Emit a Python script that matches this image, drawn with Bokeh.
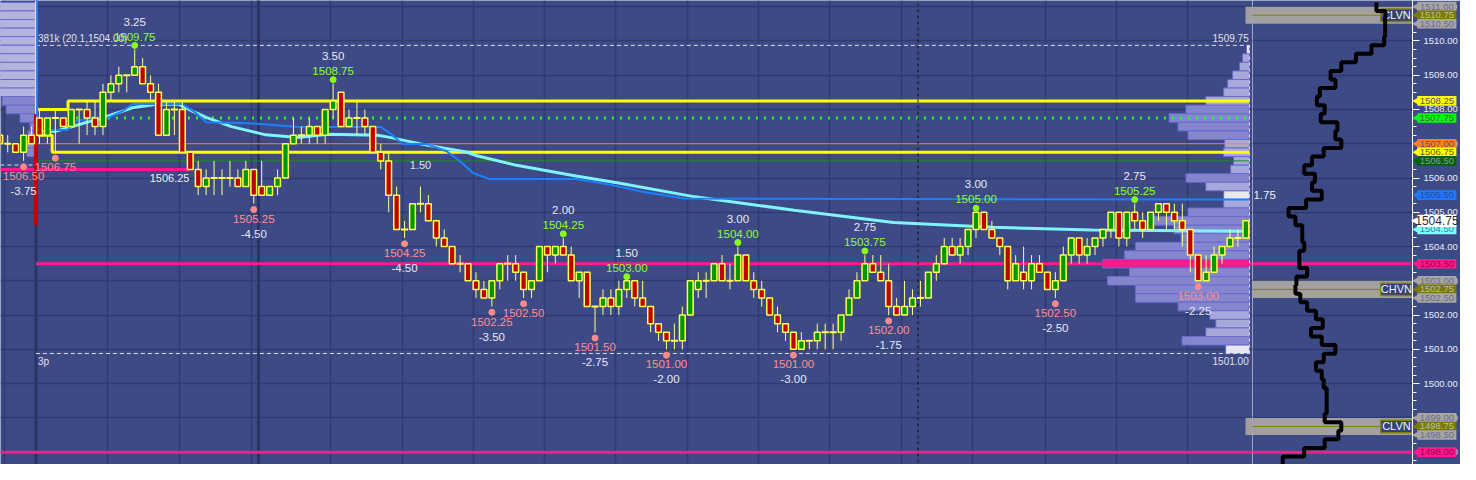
import numpy as np
from bokeh.plotting import figure
from bokeh.layouts import row
from bokeh.models import (Range1d, ColumnDataSource, SingleIntervalTicker, FixedTicker,
                          PrintfTickFormatter)
from bokeh.core.properties import value
from bokeh.embed import file_html
from bokeh.resources import INLINE

# ---------------- data ----------------
FIRST_BAR = -5
opens = [1507.25, 1507.0, 1507.0, 1506.75, 1507.25, 1507.75, 1507.25, 1507.75, 1507.75, 1507.5,
         1508.0, 1508.0, 1507.75, 1507.5, 1508.5, 1508.75, 1509.0, 1509.0, 1509.25, 1508.75,
         1508.5, 1507.25, 1508.0, 1508.0, 1506.75, 1506.25, 1505.75, 1506.0, 1506.0, 1506.0,
         1506.0, 1505.75, 1506.25, 1505.75, 1505.5, 1505.75, 1506.0, 1507.0, 1507.25, 1507.25,
         1507.5, 1507.25, 1508.0, 1508.5, 1507.5, 1507.75, 1507.75, 1507.5, 1506.75, 1506.5,
         1505.5, 1504.5, 1504.5, 1505.25, 1505.25, 1504.75, 1504.25, 1504.0, 1503.5, 1503.5,
         1503.0, 1502.75, 1502.5, 1503.0, 1503.5, 1503.5, 1503.25, 1502.75, 1503.0, 1504.0,
         1503.75, 1504.0, 1503.75, 1503.0, 1503.25, 1502.25, 1502.25, 1502.5, 1502.25, 1502.75,
         1503.0, 1502.5, 1502.25, 1501.75, 1501.5, 1501.25, 1501.25, 1502.0, 1502.75, 1503.0,
         1503.0, 1503.5, 1503.0, 1503.0, 1503.75, 1503.0, 1502.75, 1502.5, 1502.0, 1501.75,
         1501.5, 1501.0, 1501.25, 1501.25, 1501.5, 1501.5, 1501.5, 1502.0, 1502.5, 1503.0,
         1503.5, 1503.25, 1503.0, 1502.25, 1502.0, 1502.25, 1502.5, 1502.5, 1503.25, 1503.5,
         1504.0, 1503.75, 1504.0, 1504.5, 1505.0, 1504.5, 1504.25, 1504.0, 1503.0, 1503.25,
         1503.0, 1503.5, 1503.25, 1502.75, 1503.0, 1503.75, 1504.25, 1503.75, 1504.0, 1504.25,
         1504.5, 1505.0, 1504.25, 1505.0, 1504.75, 1504.5, 1505.0, 1505.25, 1505.0, 1504.75,
         1504.5, 1503.75, 1503.0, 1503.25, 1503.75, 1504.0, 1504.25, 1504.25]
highs = [1507.5, 1507.25, 1507.0, 1507.5, 1507.5, 1508.0, 1507.75, 1508.0, 1507.75, 1508.0,
         1508.0, 1508.25, 1508.25, 1508.75, 1509.0, 1509.25, 1509.0, 1509.75, 1509.5, 1509.0,
         1508.75, 1508.25, 1508.25, 1508.25, 1506.75, 1506.5, 1506.25, 1506.5, 1506.25, 1506.5,
         1506.25, 1506.5, 1506.25, 1506.5, 1505.75, 1506.25, 1507.0, 1507.75, 1507.5, 1507.75,
         1507.5, 1508.0, 1508.75, 1508.5, 1508.0, 1508.25, 1508.0, 1507.5, 1507.0, 1506.75,
         1505.75, 1504.75, 1505.25, 1505.75, 1505.5, 1504.75, 1504.5, 1504.0, 1503.75, 1503.5,
         1503.25, 1503.0, 1503.0, 1503.5, 1503.75, 1503.75, 1503.25, 1503.0, 1504.0, 1504.0,
         1504.0, 1504.25, 1504.0, 1503.25, 1503.25, 1502.25, 1502.75, 1502.75, 1503.0, 1503.0,
         1503.0, 1503.0, 1502.25, 1501.75, 1501.5, 1501.75, 1502.25, 1503.0, 1503.25, 1503.25,
         1503.5, 1503.75, 1503.5, 1504.0, 1503.75, 1503.25, 1503.0, 1502.5, 1502.25, 1501.75,
         1501.5, 1501.5, 1501.25, 1501.75, 1501.75, 1501.75, 1502.0, 1502.75, 1503.25, 1503.75,
         1503.75, 1503.75, 1503.5, 1502.5, 1503.0, 1502.75, 1503.0, 1503.25, 1503.75, 1504.25,
         1504.25, 1504.25, 1504.5, 1505.0, 1505.0, 1504.75, 1504.25, 1504.0, 1503.75, 1504.0,
         1503.75, 1503.75, 1503.25, 1503.25, 1504.0, 1504.25, 1504.25, 1504.25, 1504.25, 1504.5,
         1505.0, 1505.0, 1505.0, 1505.25, 1505.0, 1505.0, 1505.25, 1505.25, 1505.25, 1505.25,
         1504.5, 1503.75, 1503.75, 1504.0, 1504.0, 1504.5, 1504.5, 1504.75]
lows = [1506.75, 1506.75, 1506.75, 1506.5, 1507.0, 1507.0, 1507.0, 1506.75, 1507.5, 1507.5,
        1507.0, 1507.25, 1507.25, 1507.25, 1508.25, 1508.5, 1508.5, 1509.0, 1508.75, 1508.25,
        1507.25, 1507.25, 1507.25, 1506.75, 1506.25, 1505.5, 1505.5, 1505.5, 1505.5, 1505.75,
        1505.75, 1505.75, 1505.25, 1505.5, 1505.5, 1505.5, 1506.0, 1507.0, 1507.0, 1507.0,
        1507.0, 1507.0, 1507.75, 1507.5, 1507.5, 1507.25, 1507.25, 1506.75, 1506.25, 1505.0,
        1504.5, 1504.25, 1504.5, 1505.0, 1504.75, 1504.0, 1504.0, 1503.5, 1503.25, 1503.0,
        1502.5, 1502.5, 1502.25, 1502.75, 1503.0, 1503.0, 1502.5, 1502.5, 1503.0, 1503.25,
        1503.5, 1503.75, 1503.0, 1502.5, 1502.25, 1501.5, 1502.0, 1502.0, 1502.0, 1502.5,
        1502.25, 1502.25, 1501.5, 1501.25, 1501.0, 1501.0, 1501.0, 1502.0, 1502.5, 1502.5,
        1503.0, 1503.0, 1502.75, 1503.0, 1503.0, 1502.5, 1502.25, 1502.0, 1501.5, 1501.25,
        1501.0, 1501.0, 1501.0, 1501.0, 1501.0, 1501.0, 1501.25, 1502.0, 1502.5, 1503.0,
        1503.25, 1503.0, 1502.0, 1502.0, 1502.0, 1502.0, 1502.25, 1502.5, 1503.0, 1503.5,
        1503.75, 1503.5, 1503.75, 1504.25, 1504.5, 1504.25, 1503.75, 1502.75, 1503.0, 1502.75,
        1502.75, 1503.25, 1502.75, 1502.5, 1503.0, 1503.5, 1503.5, 1503.5, 1503.75, 1504.0,
        1504.25, 1504.0, 1504.0, 1504.5, 1504.25, 1504.5, 1504.75, 1504.5, 1504.5, 1504.0,
        1503.25, 1503.0, 1503.0, 1503.25, 1503.5, 1504.0, 1504.0, 1504.25]
closes = [1507.0, 1507.0, 1506.75, 1507.25, 1507.0, 1507.25, 1507.75, 1507.75, 1507.5, 1508.0,
          1508.0, 1507.75, 1507.5, 1508.5, 1508.75, 1509.0, 1509.0, 1509.25, 1508.75, 1508.5,
          1507.25, 1508.0, 1508.0, 1506.75, 1506.25, 1505.75, 1506.0, 1506.0, 1506.0, 1506.0,
          1505.75, 1506.25, 1505.5, 1505.5, 1505.75, 1506.0, 1507.0, 1507.25, 1507.25, 1507.5,
          1507.25, 1508.0, 1508.25, 1507.5, 1507.75, 1507.75, 1507.5, 1506.75, 1506.5, 1505.5,
          1504.5, 1504.5, 1505.25, 1505.25, 1504.75, 1504.25, 1504.0, 1503.5, 1503.5, 1503.0,
          1502.75, 1502.5, 1503.0, 1503.5, 1503.5, 1503.25, 1502.75, 1503.0, 1504.0, 1503.75,
          1504.0, 1503.75, 1503.0, 1503.25, 1502.25, 1502.25, 1502.5, 1502.25, 1502.75, 1503.0,
          1502.5, 1502.25, 1501.75, 1501.5, 1501.25, 1501.25, 1502.0, 1503.0, 1503.0, 1503.0,
          1503.5, 1503.0, 1503.0, 1503.75, 1503.0, 1502.75, 1502.5, 1502.0, 1501.75, 1501.5,
          1501.0, 1501.25, 1501.25, 1501.5, 1501.5, 1501.5, 1502.0, 1502.5, 1503.0, 1503.5,
          1503.25, 1503.0, 1502.25, 1502.0, 1502.25, 1502.5, 1502.5, 1503.25, 1503.5, 1504.0,
          1503.75, 1504.0, 1504.5, 1505.0, 1504.5, 1504.25, 1504.0, 1503.0, 1503.5, 1503.0,
          1503.5, 1503.25, 1502.75, 1503.0, 1503.75, 1504.25, 1503.75, 1504.0, 1504.25, 1504.5,
          1505.0, 1504.25, 1505.0, 1504.75, 1504.5, 1505.0, 1505.25, 1505.0, 1504.75, 1504.5,
          1503.75, 1503.0, 1503.25, 1503.75, 1504.0, 1504.25, 1504.25, 1504.75]

swing_high_bar = [12, 37, 66, 74, 88, 104, 118, 138]
swing_high_price = [1509.75, 1508.75, 1504.25, 1503.0, 1504.0, 1503.75, 1505.0, 1505.25]
swing_high_change = ["3.25", "3.50", "2.00", "1.50", "3.00", "2.75", "3.00", "2.75"]
swing_low_bar = [-2, 2, 27, 46, 57, 61, 70, 79, 95, 107, 128, 146]
swing_low_price = [1506.5, 1506.75, 1505.25, 1504.25, 1502.25, 1502.5, 1501.5, 1501.0,
                   1501.0, 1502.0, 1502.5, 1503.0]
swing_low_change = ["-3.75", "", "-4.50", "-4.50", "-3.50", "", "-2.75", "-2.00",
                    "-3.00", "-1.75", "-2.50", "-2.25"]

vp_price = [1509.75, 1509.5, 1509.25, 1509.0, 1508.75, 1508.5, 1508.25, 1508.0, 1507.75,
            1507.5, 1507.25, 1507.0, 1506.75, 1506.5, 1506.25, 1506.0, 1505.75, 1505.5,
            1505.25, 1505.0, 1504.75, 1504.5, 1504.25, 1504.0, 1503.75, 1503.5, 1503.25,
            1503.0, 1502.75, 1502.5, 1502.25, 1502.0, 1501.75, 1501.5, 1501.25, 1501.0]
vp_volume = [3, 7, 10, 17, 22, 26, 44, 64, 81, 72, 62, 25, 26, 16, 19, 64, 44, 26, 26, 62,
             97, 76, 69, 115, 126, 148, 121, 143, 115, 115, 72, 40, 34, 44, 68, 24]
pp_price = [1511.0, 1510.75, 1510.5, 1510.25, 1510.0, 1509.75, 1509.5, 1509.25, 1509.0,
            1508.75, 1508.5, 1508.25, 1508.0, 1507.75, 1507.5, 1507.25, 1507.0, 1506.75]
pp_volume = [40, 40, 40, 40, 40, 40, 40, 40, 40, 40, 38, 34, 30, 16, 6, 8, 10, 9]
cp_price = [1511.0, 1510.75, 1510.5, 1510.25, 1510.0, 1509.75, 1509.5, 1509.25, 1509.0,
            1508.75, 1508.5, 1508.25, 1508.0, 1507.75, 1507.5, 1507.25, 1507.0, 1506.75,
            1506.5, 1506.25, 1506.0, 1505.75, 1505.5, 1505.25, 1505.0, 1504.75, 1504.5,
            1504.25, 1504.0, 1503.75, 1503.5, 1503.25, 1503.0, 1502.75, 1502.5, 1502.25,
            1502.0, 1501.75, 1501.5, 1501.25, 1501.0, 1500.75, 1500.5, 1500.25, 1500.0,
            1499.75, 1499.5, 1499.25, 1499.0, 1498.75, 1498.5, 1498.25, 1498.0, 1497.75]
cp_volume = [127, 136, 136, 136, 135, 122, 106, 91, 80, 85, 69, 66, 74, 70, 87, 85, 91, 73,
             61, 53, 64, 61, 71, 55, 37, 44, 51, 51, 53, 48, 48, 56, 45, 44, 49, 56, 65, 72,
             60, 71, 85, 73, 65, 71, 73, 76, 76, 76, 74, 91, 88, 74, 53, 31]

cyan_bar = [-0.4, 2.0, 4.7, 8.8, 11.7, 14.7, 17.6, 19.2, 21, 24.2, 28.5, 32.6, 36.3, 42.6,
            43.8, 48.8, 53.8, 55.1, 60.1, 67.6, 72.6, 82.6, 95.1, 107.6, 120.1, 132.6, 152.46]
cyan_val = [1507.4, 1507.36, 1507.54, 1507.82, 1508.05, 1508.15, 1508.15, 1507.96, 1507.77,
            1507.5, 1507.26, 1507.18, 1507.28, 1507.25, 1507.2, 1506.96, 1506.76, 1506.65,
            1506.37, 1506.06, 1505.87, 1505.45, 1505.06, 1504.7, 1504.56, 1504.48, 1504.45]
blue_bar = [-0.3, -0.3, 1.7, 3.5, 4.7, 8.8, 10.5, 11.7, 18, 19.7, 21, 26.3, 32.6, 43, 44.5,
            45.7, 48.8, 51.3, 52.6, 54.7, 56.7, 67.6, 72, 76, 81.3, 152.46]
blue_val = [1511.3, 1507.4, 1507.4, 1507.4, 1507.68, 1507.77, 1507.96, 1508.16, 1508.16,
            1507.9, 1507.63, 1507.6, 1507.49, 1507.49, 1507.25, 1506.99, 1506.99, 1506.78,
            1506.56, 1506.14, 1505.97, 1505.97, 1505.8, 1505.6, 1505.4, 1505.37]

session_start = -0.45
profile_base = 152.46
session_high, session_low = 1509.75, 1501.0
ib_high_early, ib_high = 1508.0, 1508.25
ib_low_early, ib_low = 1507.25, 1506.75
green_level, orange_level, dkgreen_level = 1507.75, 1507.0, 1506.5
prior_magenta = 1506.25
magenta_levels = [1503.5, 1498.0]
node_names = ["CLVN", "CHVN", "CLVN"]
node_center = [1510.75, 1502.75, 1498.75]
tag_price = [1511.0, 1510.75, 1510.5, 1508.25, 1507.75, 1507.0, 1506.75, 1506.5, 1505.5,
             1504.5, 1504.75, 1503.5, 1503.0, 1502.75, 1502.5, 1499.0, 1498.75, 1498.5, 1498.0]
tag_kind = ["grey", "olive", "grey", "yellow", "green", "orange", "yellow", "dkgreen", "blue",
            "cyan", "white", "magenta", "grey", "olive", "grey", "grey", "olive", "grey", "magenta"]
grid_bars = [-4.4, 8.6, 17.6, 26.7, 36.7, 45.7, 54.7, 63.6, 72.6, 81.6, 90.6, 99.6, 108.6,
             117.6, 126.7, 135.7, 144.7]

# ---------------- styling ----------------
BG = "#3d4a86"
GRID = "#303b72"
FONT = "Liberation Sans"
H, W_MAIN, W_RIGHT = 464, 1252, 208
y_rng = Range1d(1497.64, 1511.18)


def txt(fig, xs, ys, texts, color, size="11px", align="center", yoff=0, level="glyph"):
    src = ColumnDataSource(dict(x=list(xs), y=list(ys), t=list(texts)))
    fig.text("x", "y", text="t", source=src, y_offset=yoff, text_align=align,
             text_baseline="middle", text_font=value(FONT), text_font_size=size,
             text_color=color, level=level)


p = figure(width=W_MAIN, height=H, x_range=Range1d(-4.91, 152.84), y_range=y_rng,
           output_backend="svg", toolbar_location=None, min_border=0)
p.xaxis.visible = False
p.yaxis.visible = False
p.background_fill_color = BG
p.border_fill_color = BG
p.outline_line_color = None
p.ygrid.ticker = SingleIntervalTicker(interval=1)
p.xgrid.ticker = FixedTicker(ticks=grid_bars)
for g in (p.xgrid, p.ygrid):
    g.grid_line_color = GRID
    g.grid_line_width = 1.5

p.segment(x0=[session_start, 27.6], y0=[1497.0] * 2, x1=[session_start, 27.6], y1=[1512.0] * 2,
          line_color="#2a3466", line_width=3)

# profiles
vp_price_a = np.array(vp_price)
vp_vol_a = np.array(vp_volume, dtype=float)
vp_colors = []
for pr, v in zip(vp_price, vp_volume):
    if pr in (session_high, session_low, 1505.5):
        vp_colors.append("#ffffff")
    elif v == max(vp_volume):
        vp_colors.append("#ff1a8c")
    elif v >= 55:
        vp_colors.append("#8e8ed8")
    else:
        vp_colors.append("#b6b6e6")
p.quad(bottom=vp_price_a - 0.125, top=vp_price_a + 0.125, left=profile_base - vp_vol_a / 8.0,
       right=np.full(len(vp_price), profile_base), fill_color=vp_colors, fill_alpha=0.88,
       line_color="#6a6ad0", line_width=1)
pp_colors = ["#c4c4ea" if v >= 38 else "#8f8fd8" for v in pp_volume]
pp_price_a = np.array(pp_price)
p.quad(bottom=pp_price_a - 0.125, top=pp_price_a + 0.125,
       left=session_start - np.array(pp_volume, dtype=float) / 8.0,
       right=np.full(len(pp_price), session_start), fill_color=pp_colors, fill_alpha=0.88,
       line_color="#6a6ad0", line_width=1)

p.quad(left=[151.96, 151.96], right=[153.5, 153.5],
       bottom=[node_center[0] - 0.25, node_center[2] - 0.25],
       top=[node_center[0] + 0.25, node_center[2] + 0.25],
       fill_color="#aaa7a4", fill_alpha=0.92, line_color=None)

# horizontal levels
p.line([-4.91, 18.9], [prior_magenta] * 2, line_color="#ff1a8c", line_width=3)
txt(p, [18.9], [prior_magenta], ["1506.25"], "#f0f0f8", align="right", yoff=9)
p.line([session_start, 152.84], [magenta_levels[0]] * 2, line_color="#ff1a8c", line_width=3)
p.line([-4.91, 152.84], [magenta_levels[1]] * 2, line_color="#ff1a8c", line_width=3)
p.line([session_start, profile_base], [orange_level] * 2, line_color="#ff8c1a", line_width=1)
p.line([session_start, profile_base], [dkgreen_level] * 2, line_color="#1c8a1c", line_width=1)
p.line([4.6, profile_base], [green_level] * 2, line_color="#1aff1a", line_width=3,
       line_dash="2 6")
p.line([session_start, 3.6, 3.6, profile_base], [ib_high_early, ib_high_early, ib_high, ib_high],
       line_color="#ffff00", line_width=3)
p.line([session_start, 1.6, 1.6, profile_base], [ib_low_early, ib_low_early, ib_low, ib_low],
       line_color="#ffff00", line_width=3)
p.line([session_start, session_start], [1511.3, ib_low_early], line_color="#ffff00", line_width=2)
p.segment(x0=[session_start], y0=[1507.87], x1=[session_start], y1=[1504.62],
          line_color="#c80000", line_width=4)
p.line([session_start, profile_base], [session_high + 0.12] * 2, line_color="#dcdce8",
       line_width=1, line_dash="4 3")
p.line([session_start, profile_base], [session_low - 0.12] * 2, line_color="#dcdce8",
       line_width=1, line_dash="4 3")
p.line([-4.91, session_start], [1506.38] * 2, line_color="#dcdce8", line_width=1, line_dash="4 3")
p.line([profile_base, profile_base], [session_low - 0.12, session_high + 0.12],
       line_color="#dcdce8", line_width=1, line_dash="3 3")
txt(p, [-0.2], [session_high + 0.12], ["381k (20.1,1504.00)"], "#e0e0ec", "10px", "left", -7)
txt(p, [-0.2], [session_low - 0.12], ["3p"], "#e0e0ec", "10px", "left", 8)
txt(p, [profile_base - 0.1], [session_high + 0.12], ["1509.75"], "#e0e0ec", "10px", "right", -7)
txt(p, [profile_base - 0.1], [session_low - 0.12], ["1501.00"], "#e0e0ec", "10px", "right", 8)
txt(p, [48.0], [1506.5], ["1.50"], "#e0e0ec", "11px", "center", 4)

p.line([110.7, 110.7], [1497.0, 1512.0], line_color="#101010", line_width=1, line_dash="3 3")

p.line(cyan_bar, cyan_val, line_color="#7ff4ff", line_width=3)
p.line(blue_bar, blue_val, line_color="#1a82ff", line_width=2)

# candles
x = np.arange(FIRST_BAR, FIRST_BAR + len(opens))
o, h, l, c = (np.array(a, dtype=float) for a in (opens, highs, lows, closes))
p.segment(x0=x, y0=h, x1=x, y1=l, line_color="#ffff8c", line_width=1)
up, dn, dj = c > o, c < o, c == o
p.vbar(x=x[up], bottom=o[up], top=c[up], width=0.72, fill_color="#009600",
       line_color="#ffff50", line_width=1.5)
p.vbar(x=x[dn], bottom=c[dn], top=o[dn], width=0.72, fill_color="#c00000",
       line_color="#ffff50", line_width=1.5)
p.segment(x0=x[dj] - 0.45, y0=o[dj], x1=x[dj] + 0.45, y1=o[dj], line_color="#ffff50",
          line_width=2)

# swing labels
p.scatter(x=swing_high_bar, y=[v + 0.12 for v in swing_high_price], size=6, color="#86ff1a")
txt(p, swing_high_bar, swing_high_price, [f"{v:.2f}" for v in swing_high_price],
    "#8cff2a", "11.5px", "center", -13)
txt(p, swing_high_bar, swing_high_price, swing_high_change, "#e8e8f4", "11.5px", "center", -28)
p.scatter(x=swing_low_bar, y=[v - 0.17 for v in swing_low_price], size=6, color="#ff8a8a")
txt(p, swing_low_bar, swing_low_price, [f"{v:.2f}" for v in swing_low_price],
    "#ff8f8f", "11.5px", "center", 15)
keep = [i for i, s in enumerate(swing_low_change) if s]
txt(p, [swing_low_bar[i] for i in keep], [swing_low_price[i] for i in keep],
    [swing_low_change[i] for i in keep], "#e8e8f4", "11.5px", "center", 30)

# ---------------- right panel ----------------
p2 = figure(width=W_RIGHT, height=H, x_range=Range1d(0, 164), y_range=y_rng,
            output_backend="svg", toolbar_location=None, y_axis_location="right", min_border=0)
p2.xaxis.visible = False
p2.background_fill_color = BG
p2.border_fill_color = BG
p2.outline_line_color = None
p2.xgrid.visible = False
p2.ygrid.ticker = SingleIntervalTicker(interval=1)
p2.ygrid.grid_line_color = GRID
p2.ygrid.grid_line_width = 1.5
p2.yaxis.ticker = SingleIntervalTicker(interval=1, num_minor_ticks=4)
p2.yaxis.formatter = PrintfTickFormatter(format="%.2f")
p2.yaxis.axis_line_color = "#ffffff"
p2.yaxis.major_tick_line_color = "#ffffff"
p2.yaxis.minor_tick_line_color = "#ffffff"
p2.yaxis.major_tick_out = 7
p2.yaxis.major_tick_in = 0
p2.yaxis.minor_tick_out = 4
p2.yaxis.minor_tick_in = 0
p2.yaxis.major_label_text_color = "#ececf8"
p2.yaxis.major_label_text_font = FONT
p2.yaxis.major_label_text_font_size = "9.5px"
p2.yaxis.major_label_standoff = 4

for lv in magenta_levels:
    p2.line([0, 164], [lv, lv], line_color="#ff1a8c", line_width=3)
p2.quad(left=[-1] * 3, right=[165] * 3, bottom=[v - 0.25 for v in node_center],
        top=[v + 0.25 for v in node_center], fill_color="#aaa7a4", fill_alpha=0.92,
        line_color=None)
p2.segment(x0=[-1] * 3, y0=node_center, x1=[131] * 3, y1=node_center, line_color="#808000",
           line_width=1)
p2.rect(x=[147.5] * 3, y=node_center, width=32, height=0.36, fill_color="#34407a",
        line_color="#808000", line_width=1.5)
txt(p2, [147.5] * 3, node_center, node_names, "#f4f4ff", "11px", "center", 0)
txt(p2, [1.0], [1505.5], ["1.75"], "#f0f0f8", "11.5px", "left", 0)

cp_p = np.array(cp_price)
cp_v = np.array(cp_volume, dtype=float)
step_x = np.repeat(cp_v, 2)
step_y = np.column_stack([cp_p + 0.125, cp_p - 0.125]).ravel()
p2.line(step_x, step_y, line_color="#000000", line_width=4)

# price tags drawn over the axis (overlay level, not clipped to the frame)
tag_styles = {
    "grey": ("#a8a6a4", "#6a6a96"), "olive": ("#7a7a00", "#bcbcbc"),
    "yellow": ("#ffff00", "#555555"), "green": ("#00ff00", "#555555"),
    "orange": ("#ff801a", "#555555"), "dkgreen": ("#006400", "#8898a8"),
    "blue": ("#1e78ff", "#2c4c90"), "cyan": ("#80ffff", "#4a7aa0"),
    "white": ("#ffffff", "#303030"), "magenta": ("#ff1a8c", "#9a0050"),
}
for pr, kind in zip(tag_price, tag_kind):
    bg, fg = tag_styles[kind]
    big = kind == "white"
    hgt = 0.36 if big else 0.28
    p2.rect(x=[189], y=[pr], width=40, height=hgt, fill_color=bg, line_color=None,
            level="overlay")
    p2.scatter(x=[169], y=[pr], marker="triangle", angle=np.pi / 2, size=11 if big else 9,
               fill_color=bg, line_color=None, level="overlay")
    txt(p2, [189], [pr], [f"{pr:.2f}"], fg, "12px" if big else "9.5px", "center", 0,
        level="overlay")

layout = row(p, p2)
open("out.html", "w").write(file_html(layout, INLINE, "chart"))
